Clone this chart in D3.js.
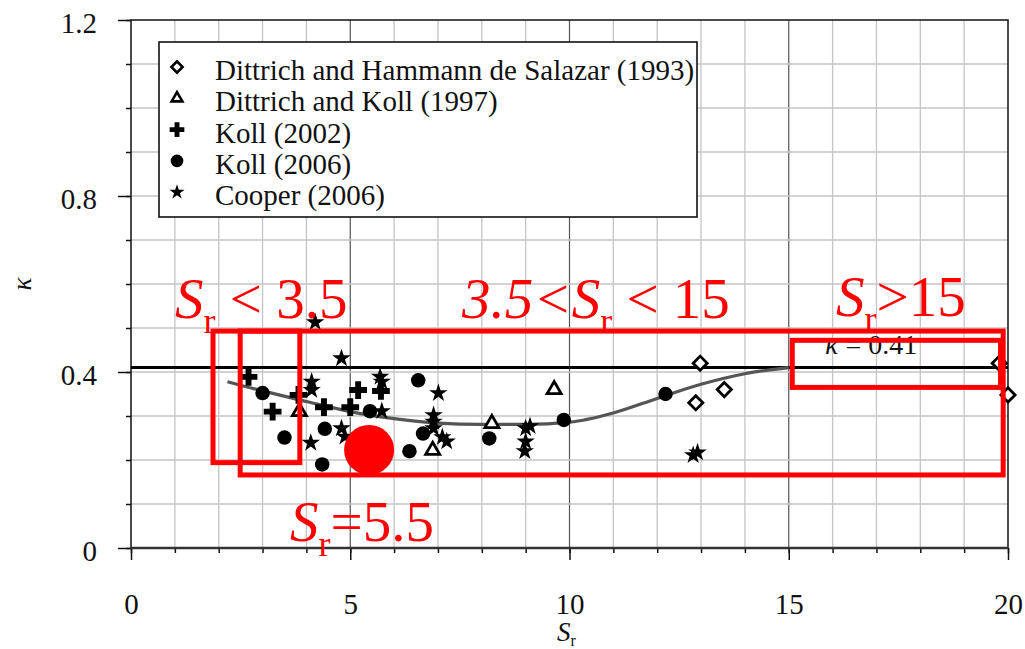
<!DOCTYPE html>
<html>
<head>
<meta charset="utf-8">
<script src="https://cdn.jsdelivr.net/npm/d3@7"></script>
<style>
  html, body { margin: 0; padding: 0; background: #fff; }
  svg { display: block; }
  svg text { font-family: "Liberation Serif", "Times New Roman", serif; }
</style>
</head>
<body>
<svg id="chart" width="1025" height="649"></svg>
<script>
// ---- data -------------------------------------------------------------
const seriesNames = [
  "Dittrich and Hammann de Salazar (1993)",
  "Dittrich and Koll (1997)",
  "Koll (2002)",
  "Koll (2006)",
  "Cooper (2006)"
];

const dhs1993Sr = [12.98, 12.88, 13.53, 19.8, 20.0];
const dhs1993K  = [0.42, 0.33, 0.36, 0.42, 0.348];

const dk1997Sr = [3.84, 6.88, 8.23, 9.65];
const dk1997K  = [0.31, 0.222, 0.283, 0.36];

const koll2002Sr = [2.68, 3.23, 3.82, 4.40, 5.00, 5.18, 5.70];
const koll2002K  = [0.389, 0.31, 0.348, 0.32, 0.32, 0.359, 0.357];

const koll2006Sr = [3.0, 3.5, 4.42, 4.36, 5.45, 6.55, 6.66, 6.35, 8.17, 9.87, 12.19];
const koll2006K  = [0.352, 0.251, 0.271, 0.19, 0.311, 0.381, 0.26, 0.22, 0.249, 0.291, 0.35];

const cooperSr = [4.2, 4.12, 4.12, 4.1, 4.8, 4.8, 4.88, 5.68, 5.72, 5.72, 7.01, 6.9, 6.9, 6.9, 7.1, 7.2, 9.0, 9.1, 9.0, 8.98, 12.82, 12.92];
const cooperK  = [0.513, 0.378, 0.359, 0.239, 0.431, 0.272, 0.253, 0.389, 0.378, 0.311, 0.352, 0.302, 0.287, 0.272, 0.252, 0.242, 0.272, 0.277, 0.242, 0.22, 0.211, 0.217];

// fitted trend of kappa against S_r
const curveSr = [2.2, 3, 4, 5, 6, 7, 8, 9, 10, 11, 12, 13, 14, 15];
const curveK  = [0.378, 0.357, 0.333, 0.31, 0.294, 0.284, 0.281, 0.281, 0.286, 0.307, 0.34, 0.372, 0.396, 0.41];

const kappaConst = 0.41;

const xTickLabels = [0, 5, 10, 15, 20];
const yTickLabels = [0, 0.4, 0.8, 1.2];

// regime boxes [Sr0, Sr1, k0, k1]
const regimeLow  = [1.87, 3.85, 0.194, 0.493];
const regimeMid  = [2.49, 19.89, 0.166, 0.493];
const regimeHigh = [15.08, 19.83, 0.365, 0.472];
const markSr = 5.43, markK = 0.223;

const FONT = "Liberation Serif, Times New Roman, serif";

// ---- scales -----------------------------------------------------------
const svg = d3.select("#chart");
const x = d3.scaleLinear().domain([0, 20]).range([131, 1008]);
const y = d3.scaleLinear().domain([0, 1.2]).range([548, 20]);

// ---- grid -------------------------------------------------------------
const grid = svg.append("g");
grid.selectAll("line.v").data(d3.range(1, 20)).join("line")
  .attr("x1", d => x(d)).attr("x2", d => x(d))
  .attr("y1", y(0)).attr("y2", y(1.2))
  .attr("stroke", d => d % 5 === 0 ? "#555" : "#c4c4c4")
  .attr("stroke-width", d => d % 5 === 0 ? 1.2 : 1.3);
grid.selectAll("line.h").data(d3.range(1, 12).map(i => i / 10)).join("line")
  .attr("x1", x(0)).attr("x2", x(20))
  .attr("y1", d => y(d)).attr("y2", d => y(d))
  .attr("stroke", "#c4c4c4").attr("stroke-width", 1.3);

// ---- axes -------------------------------------------------------------
const axisStyle = g => {
  g.attr("font-family", FONT);
  g.select(".domain").remove();
  g.selectAll("line").attr("stroke", "#111").attr("stroke-width", 1.5);
  g.selectAll("text").attr("font-family", FONT).attr("font-size", 29).attr("fill", "#111");
};
svg.append("g").attr("transform", `translate(${x(0)},0)`)
  .call(d3.axisLeft(y).tickValues(d3.range(0, 13).map(i => i / 10)).tickSize(5).tickFormat(""))
  .call(axisStyle);
svg.append("g").attr("transform", `translate(${x(0)},0)`)
  .call(d3.axisLeft(y).tickValues(yTickLabels).tickSize(13).tickPadding(21).tickFormat(d3.format("")))
  .call(axisStyle)
  .call(g => g.selectAll("text").attr("dy", "0.42em"));
svg.append("g").attr("transform", `translate(0,${y(0)})`)
  .call(d3.axisBottom(x).tickValues(d3.range(0, 21)).tickSize(5).tickFormat(""))
  .call(axisStyle);
svg.append("g").attr("transform", `translate(0,${y(0)})`)
  .call(d3.axisBottom(x).tickValues(xTickLabels).tickSize(12).tickPadding(33).tickFormat(d3.format("")))
  .call(axisStyle);

// frame
svg.append("rect")
  .attr("x", x(0)).attr("y", y(1.2))
  .attr("width", x(20) - x(0)).attr("height", y(0) - y(1.2))
  .attr("fill", "none").attr("stroke", "#111").attr("stroke-width", 1.5);
svg.append("line").attr("x1", x(0)).attr("x2", x(20)).attr("y1", y(0)).attr("y2", y(0))
  .attr("stroke", "#333").attr("stroke-width", 2.5);

// axis titles
svg.append("text")
  .attr("transform", `translate(31,${y(0.6)})rotate(-90)`)
  .attr("text-anchor", "middle").attr("font-size", 27).attr("font-style", "italic").attr("fill", "#111")
  .attr("font-family", FONT)
  .text("κ");
const xt = svg.append("text").attr("x", 557).attr("y", 641).attr("font-size", 27).attr("fill", "#111")
  .attr("font-family", FONT);
xt.append("tspan").attr("font-style", "italic").text("S");
xt.append("tspan").attr("font-size", 16).attr("dy", 5).text("r");

// ---- constant and trend lines ----------------------------------------
svg.append("line")
  .attr("x1", x(0)).attr("x2", x(20)).attr("y1", y(kappaConst)).attr("y2", y(kappaConst))
  .attr("stroke", "#000").attr("stroke-width", 3);

svg.append("path")
  .datum(curveSr.map((s, i) => [s, curveK[i]]))
  .attr("d", d3.line().x(d => x(d[0])).y(d => y(d[1])).curve(d3.curveMonotoneX))
  .attr("fill", "none").attr("stroke", "#555").attr("stroke-width", 3.2);

svg.append("text").attr("x", 825).attr("y", 354).attr("font-size", 28).attr("fill", "#111")
  .attr("font-family", FONT)
  .call(t => { t.append("tspan").attr("font-style", "italic").text("κ"); t.append("tspan").text(" = 0.41"); });

// ---- markers ----------------------------------------------------------
const sym = {
  diamond: d3.symbol(d3.symbolSquare, 100),
  triangle: d3.symbol(d3.symbolTriangle, 85),
  plus: d3.symbol(d3.symbolCross, 175),
  circle: d3.symbol(d3.symbolCircle, 165),
  star: d3.symbol(d3.symbolStar, 105)
};
const series = [
  { sr: dhs1993Sr, k: dhs1993K, shape: "diamond", rot: 45, fill: "#fff" },
  { sr: dk1997Sr, k: dk1997K, shape: "triangle", rot: 0, fill: "#fff" },
  { sr: koll2002Sr, k: koll2002K, shape: "plus", rot: 0, fill: "#000" },
  { sr: koll2006Sr, k: koll2006K, shape: "circle", rot: 0, fill: "#000" },
  { sr: cooperSr, k: cooperK, shape: "star", rot: 0, fill: "#000" }
];
series.forEach(s => {
  svg.append("g").selectAll("path").data(s.sr.map((v, i) => [v, s.k[i]])).join("path")
    .attr("d", sym[s.shape]())
    .attr("transform", d => `translate(${x(d[0])},${y(d[1])})rotate(${s.rot})`)
    .attr("fill", s.fill)
    .attr("stroke", "#000")
    .attr("stroke-width", s.fill === "#fff" ? 2.8 : 0);
});

// ---- legend -----------------------------------------------------------
const legend = svg.append("g");
legend.append("rect").attr("x", 159).attr("y", 42).attr("width", 538).attr("height", 175)
  .attr("fill", "#fff").attr("stroke", "#111").attr("stroke-width", 1.6);
const legendSym = {
  diamond: d3.symbol(d3.symbolSquare, 62),
  triangle: d3.symbol(d3.symbolTriangle, 50),
  plus: d3.symbol(d3.symbolCross, 120),
  circle: d3.symbol(d3.symbolCircle, 125),
  star: d3.symbol(d3.symbolStar, 70)
};
series.forEach((s, i) => {
  const cy = 67 + i * 31.3;
  legend.append("path").attr("d", legendSym[s.shape]())
    .attr("transform", `translate(177,${cy})rotate(${s.rot})`)
    .attr("fill", s.fill).attr("stroke", "#000").attr("stroke-width", s.fill === "#fff" ? 2.6 : 0);
  legend.append("text").attr("x", 215).attr("y", cy + 13).attr("font-size", 29).attr("fill", "#111")
    .attr("font-family", FONT)
    .text(seriesNames[i]);
});

// ---- regime annotations ----------------------------------------------
const red = "#ff0000";
const ann = svg.append("g");
[regimeLow, regimeMid, regimeHigh].forEach(b => {
  ann.append("rect")
    .attr("x", x(b[0])).attr("y", y(b[3]))
    .attr("width", x(b[1]) - x(b[0])).attr("height", y(b[2]) - y(b[3]))
    .attr("fill", "none").attr("stroke", red).attr("stroke-width", 5);
});
ann.append("circle").attr("cx", x(markSr)).attr("cy", y(markK)).attr("r", 25).attr("fill", red);

function redLabel(px, py, parts) {
  const t = ann.append("text").attr("x", px).attr("y", py).attr("font-size", 57)
    .attr("fill", red).attr("font-family", FONT);
  parts.forEach(p => {
    const ts = t.append("tspan").text(p.s);
    if (p.it) ts.attr("font-style", "italic");
    if (p.sub) ts.attr("font-size", 36).attr("dy", 15);
    if (p.up) ts.attr("dy", -15);
  });
}
redLabel(175, 318, [{ s: "S", it: true }, { s: "r", sub: true }, { s: " < 3.5", up: true }]);
redLabel(462, 318, [{ s: "3.5<S", it: true }, { s: "r", sub: true }, { s: "  < 15", up: true }]);
redLabel(836, 316, [{ s: "S", it: true }, { s: "r", sub: true }, { s: ">15", up: true }]);
redLabel(290, 541, [{ s: "S", it: true }, { s: "r", sub: true }, { s: "=5.5", up: true }]);
</script>
</body>
</html>
